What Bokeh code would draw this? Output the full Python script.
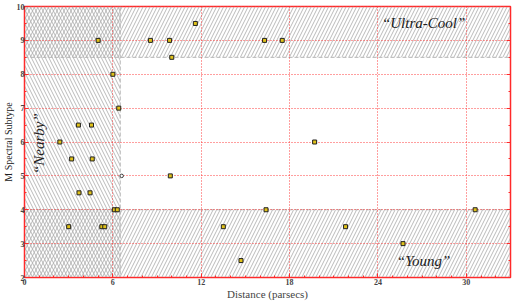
from bokeh.plotting import figure
from bokeh.models import Range1d, FixedTicker, LinearAxis, Span, Label, Title
from bokeh.embed import file_html
from bokeh.resources import INLINE

# ---- data ----
dist = [5.0, 8.55, 9.85, 11.6, 10.0, 16.3, 17.5, 6.0, 6.4, 3.66, 4.55, 2.4, 19.7,
        3.2, 4.6, 9.9, 3.7, 4.45, 6.1, 6.3, 16.4, 30.6, 3.0, 5.25, 5.45, 13.5, 21.8,
        25.7, 14.7]
subtype = [9.0, 9.0, 9.0, 9.5, 8.5, 9.0, 9.0, 8.0, 7.0, 6.5, 6.5, 6.0, 6.0,
           5.5, 5.5, 5.0, 4.5, 4.5, 4.0, 4.0, 4.0, 4.0, 3.5, 3.5, 3.5, 3.5, 3.5,
           3.0, 2.5]
open_dist = [6.6]
open_subtype = [5.0]

x_ticks = [0, 6, 12, 18, 24, 30]
y_ticks = [2, 3, 4, 5, 6, 7, 8, 9, 10]
x_min, x_max = 0, 33
y_min, y_max = 2, 10

nearby_max = 6.5
ultracool_min = 8.5
young_max = 4.0

region_labels = ["\u201cUltra-Cool\u201d", "\u201cYoung\u201d", "\u201cNearby\u201d"]
region_label_x = [27.1, 27.1, 1.0]
region_label_y = [9.5, 2.5, 5.95]

x_title = "Distance (parsecs)"
y_title = "M Spectral Subtype"

RED = "#ff2a2a"
HATCH = "#a8a8a8"
SERIF = "Liberation Serif"

p = figure(width=513, height=302, output_backend="svg", toolbar_location=None,
           x_range=Range1d(x_min, x_max), y_range=Range1d(y_min, y_max),
           min_border_left=0, min_border_right=3, min_border_top=6, min_border_bottom=23,
           x_axis_label=x_title)
p.background_fill_color = "white"
p.border_fill_color = "white"
p.outline_line_color = RED
p.outline_line_width = 1.5

# hatched regions
hatch_kw = dict(fill_alpha=0, line_color=None, hatch_color=HATCH, hatch_scale=7,
                hatch_weight=0.8, level="image")
p.quad(left=[x_min], right=[nearby_max], bottom=[y_min], top=[y_max], hatch_pattern="\\", **hatch_kw)
p.quad(left=[x_min], right=[x_max], bottom=[ultracool_min], top=[y_max], hatch_pattern="/", **hatch_kw)
p.quad(left=[x_min], right=[x_max], bottom=[y_min], top=[young_max], hatch_pattern="/", **hatch_kw)

for loc, dim in [(nearby_max, "height"), (ultracool_min, "width"), (young_max, "width")]:
    p.add_layout(Span(location=loc, dimension=dim, line_color="#b4b4b4",
                      line_dash="4 2", line_width=1, level="image"))

# grid
for g in (p.xgrid, p.ygrid):
    g.grid_line_color = RED
    g.grid_line_dash = "1 2"
    g.grid_line_width = 1
    g.grid_line_alpha = 0.9
p.xgrid.ticker = FixedTicker(ticks=x_ticks)
p.ygrid.ticker = FixedTicker(ticks=y_ticks)

# axes
y_minor = [y_min + 0.5 * i for i in range(17)]
p.xaxis.ticker = FixedTicker(ticks=x_ticks, minor_ticks=list(range(x_min, x_max + 1)))
p.yaxis.ticker = FixedTicker(ticks=y_ticks, minor_ticks=y_minor)
for ax in (p.xaxis[0], p.yaxis[0]):
    ax.axis_line_color = RED
    ax.major_tick_line_color = RED
    ax.minor_tick_line_color = RED
    ax.major_tick_in = 4
    ax.major_tick_out = 0
    ax.minor_tick_in = 2
    ax.minor_tick_out = 0
    ax.major_label_text_font = SERIF
    ax.major_label_text_font_style = "bold"
    ax.major_label_text_font_size = "8px"
    ax.major_label_standoff = 1
    ax.axis_label_text_font = SERIF
    ax.axis_label_text_font_style = "normal"
    ax.axis_label_text_font_size = "11px"
    ax.axis_label_standoff = 0
p.yaxis.major_label_standoff = 0

ry = LinearAxis(ticker=FixedTicker(ticks=y_ticks, minor_ticks=y_minor),
                major_label_overrides={t: "" for t in y_ticks},
                major_label_standoff=0, axis_line_color=RED,
                major_tick_line_color=RED, minor_tick_line_color=RED,
                major_tick_in=4, major_tick_out=0, minor_tick_in=2, minor_tick_out=0)
p.add_layout(ry, "right")

# y axis title as a left-side title panel
p.add_layout(Title(text=y_title, align="center", text_font=SERIF, text_font_size="10px",
                   text_font_style="normal", text_color="#202020", standoff=0, offset=0),
             "left")

# points
p.scatter(dist, subtype, marker="square", size=4, fill_color="#e0c21a",
          line_color="#202020", line_width=1)
p.scatter(open_dist, open_subtype, marker="circle", size=3.5, fill_color="white",
          line_color="#404040", line_width=1)

# region labels
for txt, lx, ly in zip(region_labels, region_label_x, region_label_y):
    p.add_layout(Label(x=lx, y=ly, text=txt, text_font=SERIF, text_font_style="italic",
                       text_font_size="15px", text_align="center", text_baseline="middle",
                       text_color="#202020",
                       angle=(1.5708 if txt == region_labels[2] else 0)))

open("out.html", "w").write(file_html(p, INLINE))
